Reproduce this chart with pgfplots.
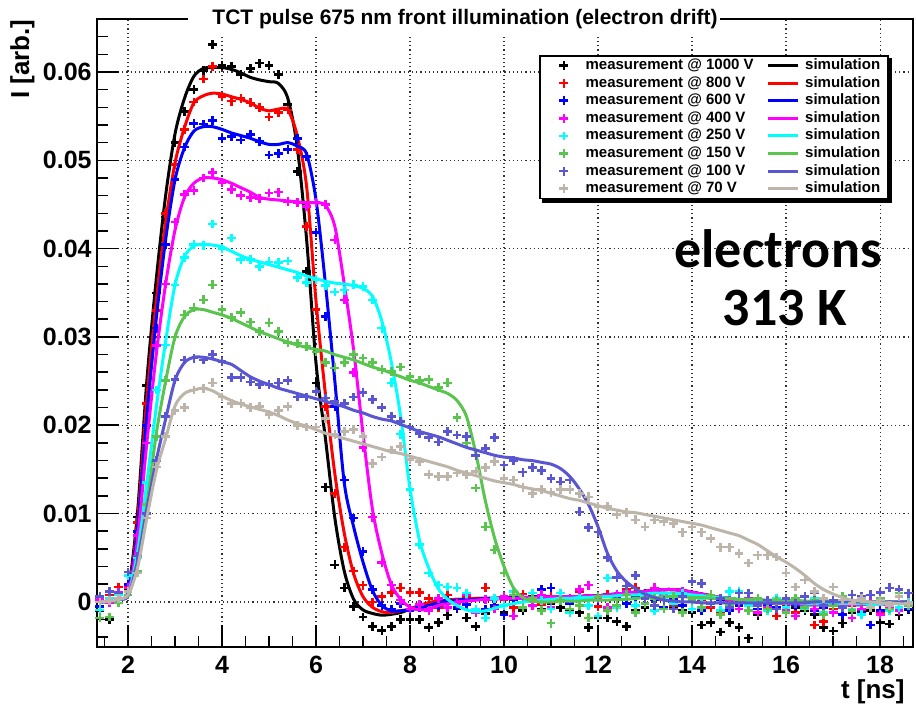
\documentclass[border=0pt]{standalone}
\usepackage{pgfplots}
\usepackage{pgfplotstable}
\pgfplotsset{compat=1.18}
\usepackage{fontspec}
\setmainfont{Liberation Sans}
\newfontfamily\calibrifont{Carlito}

\definecolor{v1000}{RGB}{0,0,0}
\definecolor{v800}{RGB}{255,0,0}
\definecolor{v600}{RGB}{0,0,255}
\definecolor{v400}{RGB}{255,0,255}
\definecolor{v250}{RGB}{0,255,255}
\definecolor{v150}{RGB}{89,196,78}
\definecolor{v100}{RGB}{90,86,210}
\definecolor{v70}{RGB}{190,181,170}

% measured TCT pulses, one column per bias voltage
\pgfplotstableread{
t m1000 m800 m600 m400 m250 m150 m100 m70
1.4 -0.0010 0.0002 -0.0005 0.0003 -0.0009 -0.0018 0.0006 0.0000
1.6 -0.0020 0.0008 0.0002 -0.0001 0.0004 -0.0017 0.0012 0.0002
1.8 0.0002 0.0017 0.0008 0.0011 0.0008 -0.0001 0.0010 0.0004
2.0 0.0015 0.0018 0.0020 0.0016 0.0030 0.0008 0.0034 0.0012
2.2 0.0096 0.0090 0.0080 0.0075 0.0050 0.0035 0.0052 0.0033
2.4 0.0245 0.0225 0.0200 0.0180 0.0135 0.0110 0.0100 0.0095
2.6 0.0350 0.0330 0.0310 0.0290 0.0240 0.0187 0.0160 0.0153
2.8 0.0436 0.0440 0.0405 0.0360 0.0291 0.0251 0.0210 0.0187
3.0 0.0520 0.0495 0.0478 0.0430 0.0359 0.0300 0.0252 0.0217
3.2 0.0555 0.0535 0.0515 0.0461 0.0390 0.0325 0.0274 0.0220
3.4 0.0580 0.0566 0.0542 0.0466 0.0405 0.0333 0.0276 0.0240
3.6 0.0602 0.0592 0.0541 0.0480 0.0404 0.0342 0.0274 0.0242
3.8 0.0631 0.0606 0.0545 0.0486 0.0428 0.0359 0.0280 0.0248
4.0 0.0607 0.0572 0.0525 0.0475 0.0400 0.0331 0.0272 0.0232
4.2 0.0606 0.0567 0.0527 0.0467 0.0412 0.0322 0.0254 0.0225
4.4 0.0597 0.0570 0.0523 0.0460 0.0388 0.0328 0.0254 0.0225
4.6 0.0604 0.0565 0.0529 0.0458 0.0388 0.0317 0.0249 0.0220
4.8 0.0610 0.0560 0.0521 0.0457 0.0380 0.0306 0.0246 0.0221
5.0 0.0607 0.0549 0.0506 0.0463 0.0385 0.0316 0.0246 0.0212
5.2 0.0597 0.0554 0.0508 0.0464 0.0384 0.0306 0.0248 0.0217
5.4 0.0563 0.0557 0.0512 0.0453 0.0386 0.0294 0.0251 0.0221
5.6 0.0487 0.0512 0.0525 0.0452 0.0367 0.0293 0.0232 0.0200
5.8 0.0374 0.0425 0.0504 0.0448 0.0362 0.0289 0.0232 0.0198
6.0 0.0248 0.0331 0.0418 0.0452 0.0365 0.0283 0.0238 0.0198
6.2 0.0130 0.0221 0.0323 0.0450 0.0358 0.0271 0.0231 0.0208
6.4 0.0042 0.0123 0.0221 0.0410 0.0351 0.0265 0.0227 0.0190
6.6 0.0016 0.0062 0.0138 0.0342 0.0353 0.0271 0.0225 0.0193
6.8 -0.0005 0.0035 0.0095 0.0260 0.0359 0.0280 0.0232 0.0195
7.0 -0.0017 0.0019 0.0057 0.0175 0.0357 0.0276 0.0237 0.0187
7.2 -0.0028 0.0000 0.0014 0.0096 0.0342 0.0271 0.0229 0.0157
7.4 -0.0032 0.0006 -0.0004 0.0045 0.0310 0.0263 0.0220 0.0164
7.6 -0.0028 0.0011 -0.0008 0.0019 0.0248 0.0261 0.0210 0.0172
7.8 -0.0020 0.0016 -0.0002 0.0002 0.0190 0.0266 0.0204 0.0176
8.0 -0.0020 0.0011 -0.0010 -0.0008 0.0127 0.0255 0.0198 0.0161
8.2 -0.0020 0.0011 -0.0006 -0.0003 0.0065 0.0251 0.0191 0.0159
8.4 -0.0029 0.0004 -0.0010 -0.0010 0.0033 0.0252 0.0186 0.0144
8.6 -0.0023 -0.0006 -0.0004 0.0004 0.0019 0.0243 0.0181 0.0142
8.8 -0.0015 0.0008 0.0002 -0.0006 0.0017 0.0248 0.0193 0.0142
9.0 -0.0008 -0.0002 -0.0006 -0.0002 0.0016 0.0209 0.0189 0.0146
9.2 -0.0018 0.0005 -0.0003 0.0008 0.0010 0.0180 0.0187 0.0144
9.4 -0.0028 -0.0010 -0.0012 -0.0012 -0.0008 0.0129 0.0166 0.0148
9.6 -0.0013 0.0016 -0.0008 0.0003 -0.0018 0.0085 0.0174 0.0152
9.8 -0.0005 -0.0004 -0.0004 -0.0008 0.0004 0.0059 0.0186 0.0159
10.0 -0.0012 0.0003 -0.0015 0.0006 -0.0004 0.0033 0.0155 0.0140
10.2 -0.0006 -0.0006 0.0002 -0.0016 0.0012 0.0008 0.0160 0.0138
10.4 -0.0010 0.0009 0.0004 0.0004 -0.0006 -0.0006 0.0147 0.0130
10.6 -0.0004 0.0002 0.0006 -0.0004 0.0010 0.0004 0.0152 0.0123
10.8 -0.0008 -0.0003 0.0014 0.0008 0.0002 -0.0010 0.0149 0.0127
11.0 -0.0002 0.0006 0.0016 -0.0006 -0.0008 -0.0024 0.0140 0.0124
11.2 -0.0006 0.0002 0.0004 0.0002 0.0010 0.0002 0.0136 0.0127
11.4 -0.0009 -0.0008 -0.0002 0.0004 -0.0012 -0.0008 0.0138 0.0127
11.6 -0.0012 0.0012 0.0006 0.0014 0.0004 -0.0004 0.0102 0.0123
11.8 -0.0029 0.0004 -0.0004 0.0019 -0.0004 -0.0018 0.0084 0.0119
12.0 -0.0018 -0.0005 0.0002 0.0004 -0.0016 0.0006 0.0079 0.0108
12.2 -0.0018 0.0009 -0.0008 -0.0006 0.0027 -0.0010 0.0050 0.0108
12.4 -0.0022 0.0003 0.0004 0.0008 -0.0006 -0.0004 0.0028 0.0099
12.6 -0.0028 0.0014 -0.0002 0.0012 0.0008 0.0008 0.0018 0.0101
12.8 -0.0010 0.0016 0.0006 -0.0004 -0.0004 -0.0012 0.0030 0.0093
13.0 -0.0006 0.0008 0.0010 0.0006 0.0006 -0.0002 0.0004 0.0085
13.2 -0.0004 0.0002 0.0002 0.0016 -0.0010 0.0004 -0.0004 0.0093
13.4 -0.0008 0.0010 -0.0006 0.0008 0.0004 -0.0008 0.0002 0.0091
13.6 -0.0005 -0.0004 0.0004 -0.0002 -0.0002 0.0006 -0.0008 0.0089
13.8 -0.0010 0.0006 -0.0004 0.0012 0.0010 -0.0012 0.0006 0.0079
14.0 -0.0012 -0.0008 0.0008 0.0004 -0.0008 0.0002 0.0023 0.0085
14.2 -0.0026 0.0002 -0.0010 -0.0006 0.0004 -0.0006 0.0021 0.0079
14.4 -0.0023 -0.0006 -0.0002 0.0006 0.0006 0.0008 -0.0002 0.0072
14.6 -0.0034 -0.0012 0.0002 -0.0010 -0.0010 -0.0014 0.0004 0.0062
14.8 -0.0023 0.0000 -0.0010 0.0002 0.0012 -0.0004 -0.0006 0.0062
15.0 -0.0029 -0.0004 -0.0004 -0.0008 0.0012 0.0002 0.0010 0.0055
15.2 -0.0041 -0.0010 0.0002 0.0004 -0.0004 -0.0010 0.0010 0.0044
15.4 -0.0015 -0.0003 -0.0008 -0.0012 0.0002 0.0004 -0.0004 0.0053
15.6 -0.0010 -0.0008 -0.0003 -0.0006 -0.0010 -0.0008 0.0002 0.0053
15.8 -0.0008 -0.0016 -0.0006 0.0000 0.0004 0.0002 -0.0008 0.0051
16.0 -0.0012 -0.0005 -0.0012 -0.0010 -0.0006 -0.0012 0.0004 0.0033
16.2 -0.0006 -0.0012 -0.0004 -0.0016 0.0002 0.0004 -0.0002 0.0017
16.4 -0.0010 -0.0002 -0.0002 -0.0004 -0.0008 -0.0006 0.0006 0.0025
16.6 -0.0014 -0.0026 -0.0010 -0.0008 0.0004 0.0002 0.0011 0.0012
16.8 -0.0029 -0.0022 -0.0006 0.0002 -0.0012 -0.0014 -0.0004 0.0004
17.0 -0.0033 -0.0008 -0.0002 -0.0012 -0.0004 -0.0004 0.0002 0.0017
17.2 -0.0024 -0.0014 -0.0014 -0.0004 0.0002 0.0006 -0.0006 0.0002
17.4 -0.0012 -0.0004 -0.0008 -0.0018 -0.0008 -0.0010 0.0008 -0.0002
17.6 -0.0008 -0.0010 -0.0012 -0.0008 -0.0014 0.0002 0.0006 0.0004
17.8 -0.0010 -0.0006 -0.0026 -0.0002 -0.0004 -0.0006 0.0008 -0.0006
18.0 -0.0023 -0.0012 -0.0010 -0.0014 0.0002 0.0004 0.0011 0.0002
18.2 -0.0025 -0.0003 -0.0006 -0.0006 -0.0010 -0.0008 0.0016 -0.0004
18.4 -0.0015 -0.0008 -0.0002 -0.0010 -0.0006 0.0010 0.0014 0.0006
18.6 -0.0009 -0.0002 -0.0008 -0.0004 0.0000 -0.0004 0.0010 -0.0002
}\meastab

% simulated pulses for the same bias voltages
\pgfplotstableread{
t s1000 s800 s600 s400 s250 s150 s100 s70
1.4 0.0000 0.0000 0.0000 0.0000 0.0000 0.0000 0.0000 0.0000
1.6 0.0001 0.0001 0.0001 0.0001 0.0001 0.0001 0.0001 0.0001
1.8 0.0004 0.0004 0.0004 0.0004 0.0003 0.0003 0.0003 0.0003
2.0 0.0012 0.0011 0.0010 0.0009 0.0008 0.0007 0.0007 0.0008
2.2 0.0100 0.0090 0.0082 0.0070 0.0055 0.0045 0.0045 0.0038
2.4 0.0250 0.0230 0.0210 0.0180 0.0135 0.0110 0.0105 0.0095
2.6 0.0365 0.0340 0.0320 0.0280 0.0220 0.0190 0.0160 0.0148
2.8 0.0460 0.0430 0.0410 0.0360 0.0295 0.0250 0.0207 0.0185
3.0 0.0530 0.0497 0.0478 0.0421 0.0359 0.0300 0.0251 0.0222
3.2 0.0570 0.0537 0.0514 0.0458 0.0391 0.0323 0.0271 0.0236
3.4 0.0595 0.0565 0.0533 0.0474 0.0403 0.0331 0.0277 0.0240
3.6 0.0604 0.0573 0.0538 0.0480 0.0405 0.0331 0.0277 0.0242
3.8 0.0605 0.0576 0.0538 0.0480 0.0404 0.0328 0.0275 0.0239
4.0 0.0605 0.0575 0.0535 0.0478 0.0402 0.0325 0.0272 0.0233
4.2 0.0603 0.0572 0.0531 0.0474 0.0397 0.0321 0.0269 0.0228
4.4 0.0599 0.0569 0.0528 0.0469 0.0392 0.0316 0.0262 0.0224
4.6 0.0594 0.0565 0.0525 0.0464 0.0388 0.0311 0.0255 0.0221
4.8 0.0591 0.0559 0.0521 0.0458 0.0385 0.0306 0.0250 0.0218
5.0 0.0589 0.0556 0.0518 0.0456 0.0382 0.0302 0.0246 0.0215
5.2 0.0587 0.0558 0.0518 0.0455 0.0379 0.0298 0.0242 0.0211
5.4 0.0570 0.0557 0.0520 0.0454 0.0376 0.0294 0.0239 0.0206
5.6 0.0515 0.0528 0.0516 0.0453 0.0373 0.0291 0.0236 0.0202
5.8 0.0410 0.0470 0.0507 0.0452 0.0369 0.0288 0.0233 0.0199
6.0 0.0270 0.0340 0.0455 0.0452 0.0366 0.0286 0.0230 0.0195
6.2 0.0185 0.0235 0.0360 0.0449 0.0363 0.0284 0.0227 0.0191
6.4 0.0095 0.0145 0.0250 0.0425 0.0361 0.0280 0.0224 0.0188
6.6 0.0035 0.0078 0.0135 0.0360 0.0360 0.0277 0.0221 0.0185
6.8 0.0003 0.0032 0.0085 0.0285 0.0358 0.0274 0.0217 0.0182
7.0 -0.0009 0.0006 0.0045 0.0190 0.0355 0.0270 0.0214 0.0179
7.2 -0.0013 -0.0006 0.0013 0.0105 0.0346 0.0266 0.0210 0.0176
7.4 -0.0015 -0.0011 -0.0004 0.0055 0.0318 0.0263 0.0207 0.0173
7.6 -0.0014 -0.0012 -0.0010 0.0020 0.0272 0.0259 0.0205 0.0170
7.8 -0.0012 -0.0010 -0.0010 0.0003 0.0210 0.0255 0.0201 0.0168
8.0 -0.0008 -0.0008 -0.0009 -0.0006 0.0128 0.0251 0.0197 0.0165
8.2 -0.0004 -0.0004 -0.0007 -0.0009 0.0070 0.0248 0.0193 0.0162
8.4 -0.0001 -0.0001 -0.0004 -0.0008 0.0038 0.0244 0.0190 0.0159
8.6 0.0001 0.0001 -0.0001 -0.0004 0.0015 0.0240 0.0187 0.0156
8.8 0.0002 0.0002 0.0001 -0.0002 0.0003 0.0236 0.0183 0.0153
9.0 0.0003 0.0003 0.0002 0.0000 -0.0004 0.0228 0.0179 0.0149
9.2 0.0003 0.0003 0.0003 0.0001 -0.0009 0.0210 0.0175 0.0146
9.4 0.0004 0.0004 0.0003 0.0002 -0.0011 0.0168 0.0172 0.0143
9.6 0.0004 0.0004 0.0004 0.0003 -0.0010 0.0115 0.0169 0.0140
9.8 0.0004 0.0004 0.0004 0.0003 -0.0007 0.0072 0.0166 0.0137
10.0 0.0005 0.0005 0.0004 0.0004 -0.0004 0.0040 0.0164 0.0135
10.2 0.0005 0.0005 0.0005 0.0004 -0.0002 0.0016 0.0163 0.0133
10.4 0.0005 0.0005 0.0005 0.0005 0.0000 0.0005 0.0161 0.0130
10.6 0.0005 0.0005 0.0005 0.0005 0.0001 0.0001 0.0160 0.0128
10.8 0.0006 0.0006 0.0005 0.0005 0.0002 0.0000 0.0158 0.0126
11.0 0.0006 0.0006 0.0006 0.0006 0.0003 0.0000 0.0156 0.0123
11.2 0.0006 0.0006 0.0006 0.0006 0.0004 0.0001 0.0151 0.0120
11.4 0.0006 0.0006 0.0006 0.0006 0.0004 0.0001 0.0142 0.0117
11.6 0.0006 0.0006 0.0006 0.0006 0.0005 0.0001 0.0128 0.0115
11.8 0.0007 0.0007 0.0007 0.0007 0.0005 0.0002 0.0110 0.0112
12.0 0.0007 0.0007 0.0007 0.0007 0.0006 0.0002 0.0085 0.0109
12.2 0.0008 0.0008 0.0008 0.0008 0.0006 0.0002 0.0055 0.0106
12.4 0.0009 0.0009 0.0009 0.0009 0.0007 0.0003 0.0035 0.0104
12.6 0.0010 0.0010 0.0010 0.0010 0.0008 0.0003 0.0023 0.0102
12.8 0.0011 0.0011 0.0011 0.0011 0.0008 0.0004 0.0015 0.0101
13.0 0.0012 0.0012 0.0012 0.0012 0.0009 0.0005 0.0009 0.0099
13.2 0.0013 0.0013 0.0013 0.0013 0.0010 0.0005 0.0005 0.0097
13.4 0.0014 0.0014 0.0014 0.0014 0.0010 0.0006 0.0002 0.0095
13.6 0.0014 0.0014 0.0014 0.0014 0.0010 0.0006 0.0001 0.0093
13.8 0.0013 0.0013 0.0013 0.0013 0.0009 0.0006 0.0000 0.0091
14.0 0.0011 0.0011 0.0011 0.0011 0.0008 0.0005 0.0000 0.0089
14.2 0.0009 0.0009 0.0009 0.0009 0.0007 0.0005 -0.0001 0.0087
14.4 0.0007 0.0007 0.0007 0.0007 0.0006 0.0004 -0.0001 0.0084
14.6 0.0005 0.0005 0.0005 0.0005 0.0005 0.0004 -0.0001 0.0081
14.8 0.0004 0.0004 0.0004 0.0004 0.0004 0.0004 -0.0001 0.0078
15.0 0.0002 0.0002 0.0002 0.0002 0.0003 0.0003 -0.0001 0.0075
15.2 0.0001 0.0001 0.0001 0.0001 0.0002 0.0003 -0.0001 0.0070
15.4 0.0000 0.0000 0.0000 0.0000 0.0001 0.0003 -0.0001 0.0065
15.6 -0.0001 -0.0001 -0.0001 -0.0001 0.0000 0.0002 -0.0001 0.0058
15.8 -0.0001 -0.0001 -0.0001 -0.0001 -0.0001 0.0002 -0.0001 0.0051
16.0 -0.0002 -0.0002 -0.0002 -0.0002 -0.0001 0.0002 -0.0001 0.0045
16.2 -0.0002 -0.0002 -0.0002 -0.0002 -0.0001 0.0002 -0.0001 0.0038
16.4 -0.0003 -0.0003 -0.0003 -0.0003 -0.0002 0.0001 -0.0001 0.0030
16.6 -0.0003 -0.0003 -0.0003 -0.0003 -0.0002 0.0001 0.0000 0.0021
16.8 -0.0003 -0.0003 -0.0003 -0.0003 -0.0002 0.0001 0.0000 0.0014
17.0 -0.0003 -0.0003 -0.0003 -0.0003 -0.0002 0.0001 0.0000 0.0009
17.2 -0.0003 -0.0003 -0.0003 -0.0003 -0.0002 0.0001 0.0000 0.0005
17.4 -0.0003 -0.0003 -0.0003 -0.0003 -0.0002 0.0000 0.0000 0.0002
17.6 -0.0003 -0.0003 -0.0003 -0.0003 -0.0002 0.0000 0.0000 0.0001
17.8 -0.0002 -0.0002 -0.0002 -0.0002 -0.0002 0.0000 0.0000 0.0000
18.0 -0.0002 -0.0002 -0.0002 -0.0002 -0.0002 0.0000 0.0000 -0.0001
18.2 -0.0002 -0.0002 -0.0002 -0.0002 -0.0001 0.0000 0.0000 -0.0001
18.4 -0.0001 -0.0001 -0.0001 -0.0001 -0.0001 0.0000 0.0000 -0.0002
18.6 0.0000 0.0000 0.0000 0.0000 -0.0001 0.0000 0.0000 -0.0002
}\simtab

\pgfplotsset{
  meas/.style={only marks, mark=+, mark size=2.2pt, mark options={line width=1.3pt},
    legend image code/.code={\path[draw=none, fill=none] (0pt,-2.5pt) rectangle (19pt,2.5pt);
      \draw[##1, fill=none] plot coordinates {(9pt,0pt)};}},
  simline/.style={no marks, line width=1.5pt, smooth, tension=0.5,
    legend image code/.code={\path[draw=none, fill=none] (0pt,-2.5pt) rectangle (18pt,2.5pt);
      \draw[##1, fill=none] (0.5pt,0pt) -- (15.5pt,0pt);}},
}

\begin{document}
\begin{tikzpicture}
\begin{axis}[
  name=ax,
  scale only axis, width=408pt, height=314pt,
  xmin=1.34, xmax=18.70, ymin=-0.0051, ymax=0.0660,
  xtick={2,4,6,8,10,12,14,16,18},
  xticklabels={2,4,6,8,10,12,14,16,18},
  ytick={0,0.01,0.02,0.03,0.04,0.05,0.06},
  yticklabels={0,0.01,0.02,0.03,0.04,0.05,0.06},
  scaled x ticks=false, scaled y ticks=false,
  minor xtick={1.5,2.5,3,3.5,4.5,5,5.5,6.5,7,7.5,8.5,9,9.5,10.5,11,11.5,12.5,13,13.5,14.5,15,15.5,16.5,17,17.5,18.5},
  minor ytick={-0.004,-0.002,0.002,0.004,0.006,0.008,0.012,0.014,0.016,0.018,0.022,0.024,0.026,0.028,0.032,0.034,0.036,0.038,0.042,0.044,0.046,0.048,0.052,0.054,0.056,0.058,0.062,0.064},
  tick align=inside, tick pos=left,
  major tick length=11pt, minor tick length=5.5pt,
  every tick/.style={black, line width=0.8pt},
  axis line style={black, line width=1pt},
  grid=major,
  major grid style={black!80, line width=0.6pt, dash pattern=on 0.6pt off 1.5pt},
  clip mode=individual,
  tick label style={font=\fontsize{12.5}{14}\selectfont\bfseries},
  xticklabel style={inner sep=0pt, yshift=-4.5pt},
  yticklabel style={inner sep=0pt, xshift=-2.5pt},
  legend columns=2,
  legend cell align=left,
  legend style={
    name=legbox,
    at={(0.5417,0.9427)}, anchor=north west,
    draw=black, line width=0.8pt, fill=white,
    font=\fontsize{7.5}{8.5}\selectfont\bfseries,
    inner xsep=3pt, inner ysep=0.5pt,
    nodes={inner sep=0.9pt, text height=5.5pt, text depth=1.5pt},
    row sep=0pt,
    /tikz/every even column/.append style={column sep=5.7pt},
  },
]
\addplot[meas, color=v1000] table[x=t, y=m1000]{\meastab};
\addlegendentry{measurement @ 1000 V}
\addplot[simline, color=v1000] table[x=t, y=s1000]{\simtab};
\addlegendentry{simulation}
\addplot[meas, color=v800] table[x=t, y=m800]{\meastab};
\addlegendentry{measurement @ 800 V}
\addplot[simline, color=v800] table[x=t, y=s800]{\simtab};
\addlegendentry{simulation}
\addplot[meas, color=v600] table[x=t, y=m600]{\meastab};
\addlegendentry{measurement @ 600 V}
\addplot[simline, color=v600] table[x=t, y=s600]{\simtab};
\addlegendentry{simulation}
\addplot[meas, color=v400] table[x=t, y=m400]{\meastab};
\addlegendentry{measurement @ 400 V}
\addplot[simline, color=v400] table[x=t, y=s400]{\simtab};
\addlegendentry{simulation}
\addplot[meas, color=v250] table[x=t, y=m250]{\meastab};
\addlegendentry{measurement @ 250 V}
\addplot[simline, color=v250] table[x=t, y=s250]{\simtab};
\addlegendentry{simulation}
\addplot[meas, color=v150] table[x=t, y=m150]{\meastab};
\addlegendentry{measurement @ 150 V}
\addplot[simline, color=v150] table[x=t, y=s150]{\simtab};
\addlegendentry{simulation}
\addplot[meas, color=v100] table[x=t, y=m100]{\meastab};
\addlegendentry{measurement @ 100 V}
\addplot[simline, color=v100] table[x=t, y=s100]{\simtab};
\addlegendentry{simulation}
\addplot[meas, color=v70] table[x=t, y=m70]{\meastab};
\addlegendentry{measurement @ 70 V}
\addplot[simline, color=v70] table[x=t, y=s70]{\simtab};
\addlegendentry{simulation}

% title box over the top frame
\fill[white] ([yshift=9.5pt]rel axis cs:0.1115,1) rectangle ([yshift=-9pt]rel axis cs:0.7635,1);
\node[anchor=base, inner sep=0pt, font=\fontsize{10.5}{12}\selectfont\bfseries]
  at ([yshift=-3pt]rel axis cs:0.451,1) {TCT pulse 675 nm front illumination (electron drift)};

% annotation
\node[anchor=base, inner sep=0pt, font=\calibrifont\fontsize{27}{30}\selectfont\bfseries]
  at (rel axis cs:0.8346,0.6035) {electrons};
\node[anchor=base, inner sep=0pt, font=\calibrifont\fontsize{27}{30}\selectfont\bfseries]
  at (rel axis cs:0.843,0.5127) {313 K};

% axis titles
\node[rotate=90, anchor=south east, inner sep=0pt, font=\fontsize{13}{15}\selectfont\bfseries]
  at ([xshift=-31pt]rel axis cs:0,1) {I [arb.]};
\node[anchor=north east, inner sep=0pt, font=\fontsize{13}{15}\selectfont\bfseries]
  at ([xshift=-4pt, yshift=-16pt]rel axis cs:1,0) {t [ns]};
\end{axis}
% solid shadow along the right and bottom edges of the legend
\fill[black] ([yshift=-1.6pt]legbox.north east) rectangle ([xshift=1.6pt, yshift=-1.6pt]legbox.south east);
\fill[black] ([xshift=1.6pt]legbox.south west) rectangle ([xshift=1.6pt, yshift=-1.6pt]legbox.south east);
\path (ax.south west) ++(-48.5pt,-29.5pt) (ax.north east) ++(1.5pt,9.5pt);
\end{tikzpicture}
\end{document}
